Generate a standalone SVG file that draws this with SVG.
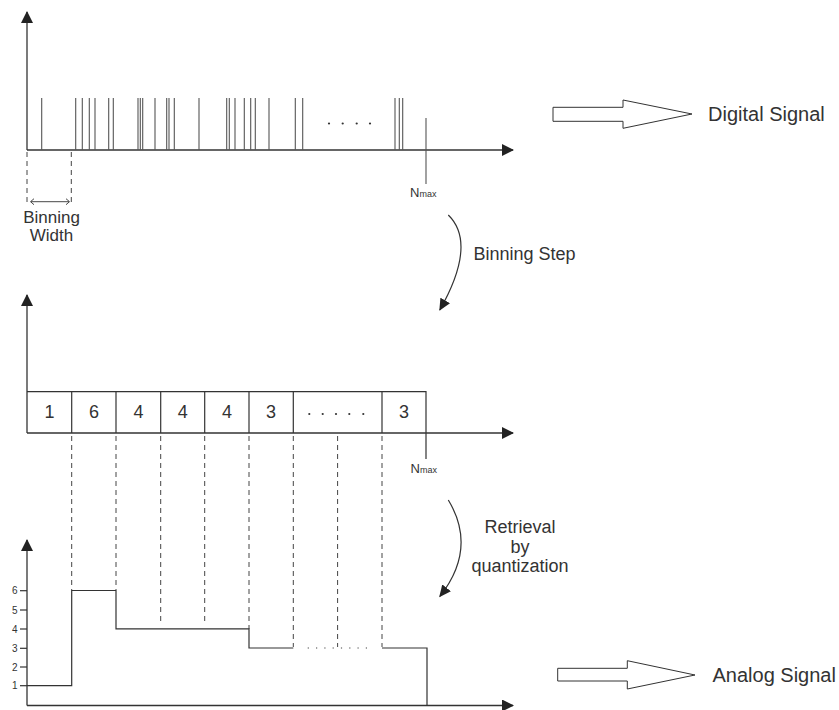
<svg xmlns="http://www.w3.org/2000/svg" width="839" height="710" viewBox="0 0 839 710">
<style>
text{font-family:"Liberation Sans",Arial,sans-serif;fill:#333}
.ax{stroke:#333;stroke-width:1.3;fill:none}
.sp{stroke:#555;stroke-width:1.1}
.ln{stroke:#333;stroke-width:1.2;fill:none}
.ds{stroke:#444;stroke-width:1;stroke-dasharray:5 4;fill:none}
.num{font-size:18px;text-anchor:middle}
.tk{font-size:10px;text-anchor:end}
.lbl{font-size:18px}
.big{font-size:20px}
.blk{fill:#fff;stroke:#333;stroke-width:1}
</style>
<defs>
<marker id="ah" markerWidth="12" markerHeight="12" refX="11" refY="6" orient="auto" markerUnits="userSpaceOnUse">
<path d="M0,0 L12,6 L0,12 z" fill="#222"/>
</marker>
<marker id="ah2" markerWidth="12" markerHeight="12" refX="11" refY="6" orient="auto" markerUnits="userSpaceOnUse">
<path d="M0,0.5 L12,6 L0,11.5 z" fill="#222"/>
</marker>
</defs>

<g id="digital-panel">
<line class="ax" x1="27" y1="150" x2="27" y2="12" marker-end="url(#ah)"/>
<line class="ax" x1="27" y1="150" x2="513" y2="150" marker-end="url(#ah)"/>
<g class="sp">
<line x1="41.7" y1="98" x2="41.7" y2="150"/>
<line x1="75.7" y1="98" x2="75.7" y2="150"/>
<line x1="82.3" y1="98" x2="82.3" y2="150"/>
<line x1="89.3" y1="98" x2="89.3" y2="150"/>
<line x1="95" y1="98" x2="95" y2="150"/>
<line x1="108.7" y1="98" x2="108.7" y2="150"/>
<line x1="113.3" y1="98" x2="113.3" y2="150"/>
<line x1="138" y1="98" x2="138" y2="150"/>
<line x1="140.3" y1="98" x2="140.3" y2="150"/>
<line x1="142.7" y1="98" x2="142.7" y2="150"/>
<line x1="155" y1="98" x2="155" y2="150"/>
<line x1="166.7" y1="98" x2="166.7" y2="150"/>
<line x1="169" y1="98" x2="169" y2="150"/>
<line x1="174.3" y1="98" x2="174.3" y2="150"/>
<line x1="199" y1="98" x2="199" y2="150"/>
<line x1="226.7" y1="98" x2="226.7" y2="150"/>
<line x1="229.3" y1="98" x2="229.3" y2="150"/>
<line x1="235" y1="98" x2="235" y2="150"/>
<line x1="244.3" y1="98" x2="244.3" y2="150"/>
<line x1="250.7" y1="98" x2="250.7" y2="150"/>
<line x1="255.3" y1="98" x2="255.3" y2="150"/>
<line x1="269" y1="98" x2="269" y2="150"/>
<line x1="295.3" y1="98" x2="295.3" y2="150"/>
<line x1="302.7" y1="98" x2="302.7" y2="150"/>
<line x1="395" y1="98" x2="395" y2="150"/>
<line x1="399.3" y1="98" x2="399.3" y2="150"/>
<line x1="402.7" y1="98" x2="402.7" y2="150"/>
<line x1="426" y1="118" x2="426" y2="184"/>
</g>
<g fill="#333">
<circle cx="329" cy="123.5" r="1.1"/>
<circle cx="342.7" cy="123.5" r="1.1"/>
<circle cx="356.7" cy="123.5" r="1.1"/>
<circle cx="370" cy="123.5" r="1.1"/>
</g>
<text x="410" y="197" font-size="13">N<tspan font-size="9">max</tspan></text>
<line class="ds" x1="27" y1="152" x2="27" y2="203"/>
<line class="ds" x1="71.3" y1="152" x2="71.3" y2="203"/>
<line x1="31" y1="201.7" x2="69" y2="201.7" stroke="#333" stroke-width="0.9"/>
<path d="M34,198.7 L30.5,201.7 L34,204.7 M66,198.7 L69.5,201.7 L66,204.7" stroke="#333" stroke-width="0.9" fill="none"/>
<text x="51.5" y="223" font-size="17" text-anchor="middle">Binning</text>
<text x="51.5" y="241" font-size="17" text-anchor="middle">Width</text>
</g>

<g id="digital-label">
<polygon class="blk" points="553,107.3 623,107.3 623,100 692,114 623,128.3 623,121.3 553,121.3"/>
<text class="big" x="708" y="121">Digital Signal</text>
</g>

<g id="binning-step">
<path class="ln" d="M448.3,215 Q477.4,243.5 439.8,310" marker-end="url(#ah2)"/>
<text class="lbl" x="473.5" y="260">Binning Step</text>
</g>

<g id="binned-panel">
<line class="ax" x1="27" y1="433" x2="27" y2="295" marker-end="url(#ah)"/>
<line class="ax" x1="27" y1="433" x2="513" y2="433" marker-end="url(#ah)"/>
<polyline class="ln" points="27,391.7 426,391.7 426,459"/>
<g class="ln">
<line x1="71.7" y1="391.7" x2="71.7" y2="433"/>
<line x1="116" y1="391.7" x2="116" y2="433"/>
<line x1="160.7" y1="391.7" x2="160.7" y2="433"/>
<line x1="204.7" y1="391.7" x2="204.7" y2="433"/>
<line x1="249" y1="391.7" x2="249" y2="433"/>
<line x1="293.3" y1="391.7" x2="293.3" y2="433"/>
<line x1="382" y1="391.7" x2="382" y2="433"/>
</g>
<text class="num" x="49.5" y="418">1</text>
<text class="num" x="94" y="418">6</text>
<text class="num" x="138.5" y="418">4</text>
<text class="num" x="182.7" y="418">4</text>
<text class="num" x="227" y="418">4</text>
<text class="num" x="271" y="418">3</text>
<text class="num" x="404" y="418">3</text>
<g fill="#333">
<circle cx="309.3" cy="414" r="1.1"/>
<circle cx="322.7" cy="414" r="1.1"/>
<circle cx="336" cy="414" r="1.1"/>
<circle cx="349.3" cy="414" r="1.1"/>
<circle cx="363.3" cy="414" r="1.1"/>
</g>
<text x="410.5" y="472.7" font-size="13">N<tspan font-size="9">max</tspan></text>
</g>

<g id="connectors">
<line class="ds" x1="71.7" y1="436" x2="71.7" y2="590"/>
<line class="ds" x1="116" y1="436" x2="116" y2="590"/>
<line class="ds" x1="160.7" y1="436" x2="160.7" y2="623"/>
<line class="ds" x1="204.7" y1="436" x2="204.7" y2="623"/>
<line class="ds" x1="249" y1="436" x2="249" y2="629"/>
<line class="ds" x1="293.3" y1="436" x2="293.3" y2="647"/>
<line class="ds" x1="337.6" y1="436" x2="337.6" y2="647"/>
<line class="ds" x1="382" y1="436" x2="382" y2="647"/>
</g>

<g id="retrieval">
<path class="ln" d="M448.3,500 Q477.6,548.4 439.8,596.5" marker-end="url(#ah2)"/>
<text class="lbl" x="520" y="532.7" text-anchor="middle">Retrieval</text>
<text class="lbl" x="520" y="553" text-anchor="middle">by</text>
<text class="lbl" x="520" y="572" text-anchor="middle">quantization</text>
</g>

<g id="analog-panel">
<line class="ax" x1="27" y1="705.5" x2="27" y2="540" marker-end="url(#ah)"/>
<line class="ax" x1="27" y1="705.5" x2="513" y2="705.5" marker-end="url(#ah)"/>
<g class="ln">
<line x1="20" y1="590.7" x2="27" y2="590.7"/>
<line x1="20" y1="610" x2="27" y2="610"/>
<line x1="20" y1="629" x2="27" y2="629"/>
<line x1="20" y1="648.3" x2="27" y2="648.3"/>
<line x1="20" y1="667" x2="27" y2="667"/>
<line x1="20" y1="685.7" x2="27" y2="685.7"/>
</g>
<text class="tk" x="17.5" y="594.2">6</text>
<text class="tk" x="17.5" y="613.5">5</text>
<text class="tk" x="17.5" y="632.5">4</text>
<text class="tk" x="17.5" y="651.8">3</text>
<text class="tk" x="17.5" y="670.5">2</text>
<text class="tk" x="17.5" y="689.2">1</text>
<polyline class="ln" points="27,685.7 71.7,685.7 71.7,590.5 116,590.5 116,628.8 249,628.8 249,648 293.3,648"/>
<line x1="307.7" y1="648" x2="372" y2="648" stroke="#444" stroke-width="1.1" stroke-dasharray="1.2 7.1"/>
<polyline class="ln" points="382,648 427,648 427,705.5"/>
</g>

<g id="analog-label">
<polygon class="blk" points="557.7,668.3 627.3,668.3 627.3,660.7 695,675 627.3,689 627.3,681 557.7,681"/>
<text class="big" x="712.5" y="681.7">Analog Signal</text>
</g>
</svg>
